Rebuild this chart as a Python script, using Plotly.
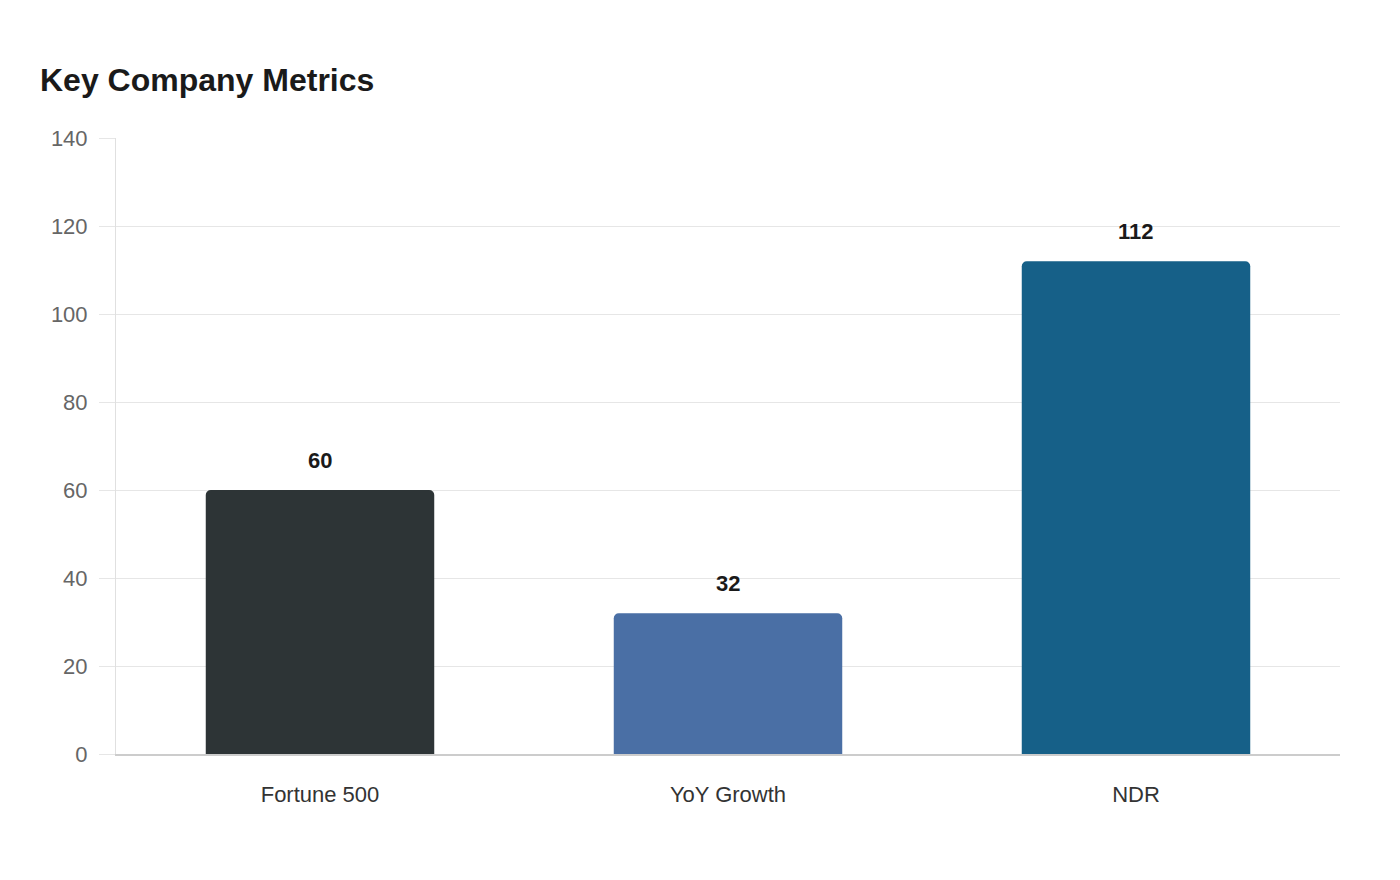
import plotly.graph_objects as go

categories = ["Fortune 500", "YoY Growth", "NDR"]
values = [60, 32, 112]
colors = ["#2d3436", "#4a6fa5", "#166088"]

fig = go.Figure()
fig.add_trace(go.Bar(
    x=categories,
    y=values,
    marker=dict(color=colors, line=dict(width=0)),
    width=0.56,
    hoverinfo="x+y",
))

# value labels above bars
for cat, val in zip(categories, values):
    fig.add_annotation(
        x=cat, y=val, text=f"<b>{val}</b>",
        showarrow=False, yanchor="bottom", yshift=15,
        font=dict(size=22, color="#1a1a1a", family="Liberation Sans, Arial, sans-serif"),
    )

fig.update_layout(
    width=1400,
    height=880,
    title=dict(
        text="<b>Key Company Metrics</b>",
        x=32 / 1400, xref="container", xanchor="left",
        y=1 - 72 / 880, yref="container", yanchor="middle",
        font=dict(size=32, color="#1a1a1a", family="Liberation Sans, Arial, sans-serif"),
    ),
    barcornerradius=5,
    margin=dict(l=108, r=68, t=130, b=134),
    paper_bgcolor="white",
    plot_bgcolor="white",
    font=dict(family="Liberation Sans, Arial, sans-serif"),
    showlegend=False,
    xaxis=dict(
        showgrid=False,
        showline=True, linecolor="#cccccc", linewidth=2,
        ticks="", tickfont=dict(size=22, color="#333333"),
        ticklabelstandoff=20,
    ),
    yaxis=dict(
        range=[0, 140], dtick=20,
        showgrid=True, gridcolor="#e6e6e6", gridwidth=1,
        zeroline=False,
        showline=True, linecolor="#e0e0e0", linewidth=1,
        ticks="outside", ticklen=16, tickcolor="#e6e6e6",
        tickfont=dict(size=22, color="#666666"),
        ticklabelstandoff=7,
    ),
)

fig.write_html("out.html")
